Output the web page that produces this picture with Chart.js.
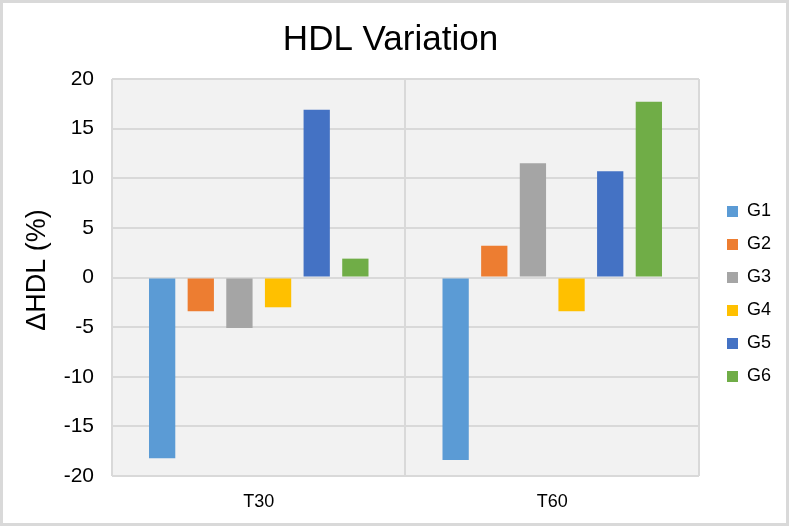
<!DOCTYPE html>
<html>
<head>
<meta charset="utf-8">
<script src="https://cdn.jsdelivr.net/npm/chart.js@4/dist/chart.umd.min.js"></script>
<style>
  html, body { margin: 0; padding: 0; background: #fff; }
  #wrap { position: relative; width: 789px; height: 526px; }
  #frame { position: absolute; left: 0; top: 0; width: 789px; height: 526px; box-sizing: border-box; border: 3px solid #d9d9d9; pointer-events: none; }
  canvas { display: block; }
</style>
</head>
<body>
<div id="wrap">
  <canvas id="c" width="789" height="526"></canvas>
  <div id="frame"></div>
</div>
<script>
const categories = ['T30', 'T60'];
const seriesNames = ['G1', 'G2', 'G3', 'G4', 'G5', 'G6'];
const g1 = [-18.2, -18.4];
const g2 = [-3.4, 3.2];
const g3 = [-5.1, 11.5];
const g4 = [-3.0, -3.4];
const g5 = [16.9, 10.7];
const g6 = [1.9, 17.7];
const yTickValues = [-20, -15, -10, -5, 0, 5, 10, 15, 20];
const colors = ['#5b9bd5', '#ed7d31', '#a5a5a5', '#ffc000', '#4472c4', '#70ad47'];
const seriesValues = [g1, g2, g3, g4, g5, g6];

const FONT = "'Liberation Sans', Arial, sans-serif";

const plotBg = {
  id: 'plotBg',
  beforeDraw(chart) {
    const a = chart.chartArea, ctx = chart.ctx;
    ctx.save();
    ctx.fillStyle = '#f2f2f2';
    ctx.fillRect(a.left, a.top, a.right - a.left, a.bottom - a.top);
    ctx.restore();
  }
};

new Chart(document.getElementById('c'), {
  type: 'bar',
  data: {
    labels: categories,
    datasets: seriesNames.map((n, i) => ({
      label: n,
      data: seriesValues[i],
      backgroundColor: colors[i],
      borderWidth: 0,
      categoryPercentage: 0.79,
      barPercentage: 0.68
    }))
  },
  options: {
    responsive: false,
    animation: false,
    devicePixelRatio: 1,
    layout: { padding: { left: 0, top: 0, bottom: 0, right: 8 } },
    plugins: {
      title: {
        display: true,
        text: 'HDL Variation',
        color: '#000',
        font: { family: FONT, size: 35, weight: 'normal', lineHeight: 1.2 },
        padding: { top: 19, bottom: 18 }
      },
      legend: {
        position: 'right',
        align: 'center',
        title: {
          display: true,
          text: ' ',
          font: { family: FONT, size: 10, lineHeight: 1 },
          padding: { top: 52, bottom: 0 }
        },
        labels: {
          boxWidth: 11,
          boxHeight: 11,
          padding: 15,
          color: '#000',
          font: { family: FONT, size: 18 }
        }
      },
      tooltip: { enabled: false }
    },
    scales: {
      x: {
        grid: { color: '#d9d9d9', lineWidth: 2, drawTicks: false, offset: true },
        border: { display: false },
        ticks: { color: '#000', font: { family: FONT, size: 18 }, padding: 15 },
        afterFit(s) { s.height = 50; }
      },
      y: {
        min: -20,
        max: 20,
        afterBuildTicks(s) { s.ticks = yTickValues.map(v => ({ value: v })); },
        grid: { color: '#d9d9d9', lineWidth: 2, drawTicks: false },
        border: { display: false },
        ticks: { color: '#000', font: { family: FONT, size: 21 }, padding: 18 },
        title: {
          display: true,
          text: '\u00a0\u00a0\u0394HDL (%)',
          color: '#000',
          font: { family: FONT, size: 27 },
          padding: { top: 21, bottom: 0 }
        },
        afterFit(s) { s.width = 112; }
      },
      gap: {
        type: 'linear',
        position: 'right',
        display: true,
        min: 0,
        max: 1,
        ticks: { display: false },
        grid: { display: false },
        border: { display: false },
        afterFit(s) { s.width = 13; }
      }
    }
  },
  plugins: [plotBg]
});
</script>
</body>
</html>
